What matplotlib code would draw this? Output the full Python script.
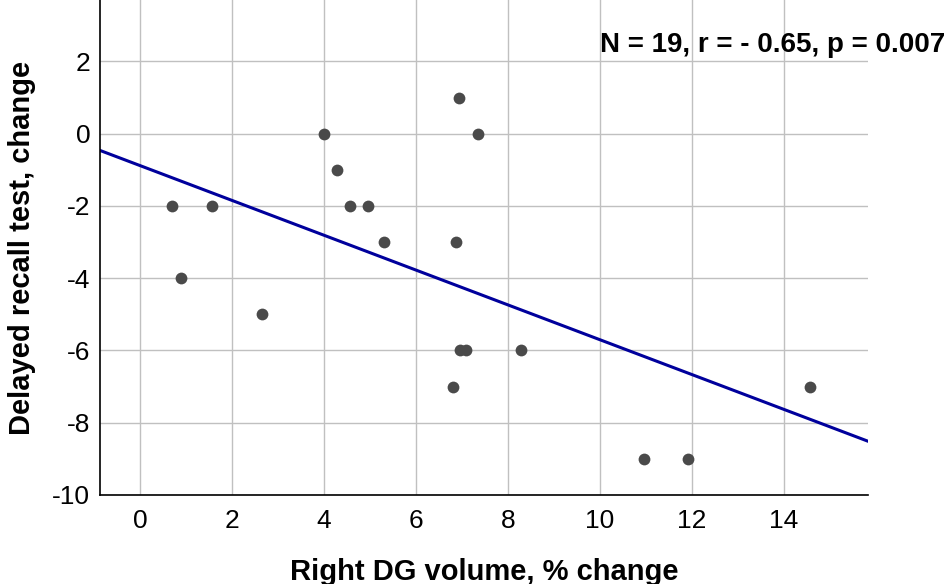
import numpy as np
import matplotlib
matplotlib.use("Agg")
import matplotlib.pyplot as plt

# right DG volume % change vs delayed recall change
dg_change = [0.70, 0.89, 1.57, 2.65, 4.00, 4.28, 4.57, 4.96, 5.30, 6.87,
             6.93, 7.35, 6.80, 6.96, 7.09, 8.28, 10.96, 11.91, 14.57]
recall_change = [-2, -4, -2, -5, 0, -1, -2, -2, -3, -3,
                 1, 0, -7, -6, -6, -6, -9, -9, -7]
x_ticks = [0, 2, 4, 6, 8, 10, 12, 14]
y_ticks = [-10, -8, -6, -4, -2, 0, 2]
stats_label = "N = 19, r = - 0.65, p = 0.007"

plt.rcParams["font.family"] = ["Liberation Sans", "DejaVu Sans"]
plt.rcParams["axes.unicode_minus"] = False

fig = plt.figure(figsize=(9.52, 5.84), dpi=100)
ax = fig.add_axes([0.105, 0.1524, 0.807, 0.8476])

xlim = (-0.87, 15.83)
ax.set_xlim(*xlim)
ax.set_ylim(-10, 3.7)

ax.grid(True, color="#c0c0c0", linewidth=1.0, zorder=0)
ax.set_axisbelow(True)

slope, intercept = np.polyfit(dg_change, recall_change, 1)
xs = np.array(xlim)
ax.plot(xs, intercept + slope * xs, color="#00009c", linewidth=2.2, zorder=2)

ax.scatter(dg_change, recall_change, s=72, color="#4a4a4a", zorder=3, linewidths=0)

ax.set_xticks(x_ticks)
ax.set_yticks(y_ticks)
ax.tick_params(length=0, labelsize=19)
ax.tick_params(axis="x", pad=10)
ax.tick_params(axis="y", pad=7)
for side in ("top", "right"):
    ax.spines[side].set_visible(False)
for side in ("left", "bottom"):
    ax.spines[side].set_linewidth(1.2)
    ax.spines[side].set_color("black")

ax.set_xlabel("Right DG volume, % change", fontsize=21, fontweight="bold", labelpad=18)
ax.set_ylabel("Delayed recall test, change", fontsize=21, fontweight="bold", labelpad=12)

fig.text(0.993, 0.923, stats_label, ha="right", va="center",
         fontsize=20, fontweight="bold")

fig.savefig("out.png", dpi=100)
